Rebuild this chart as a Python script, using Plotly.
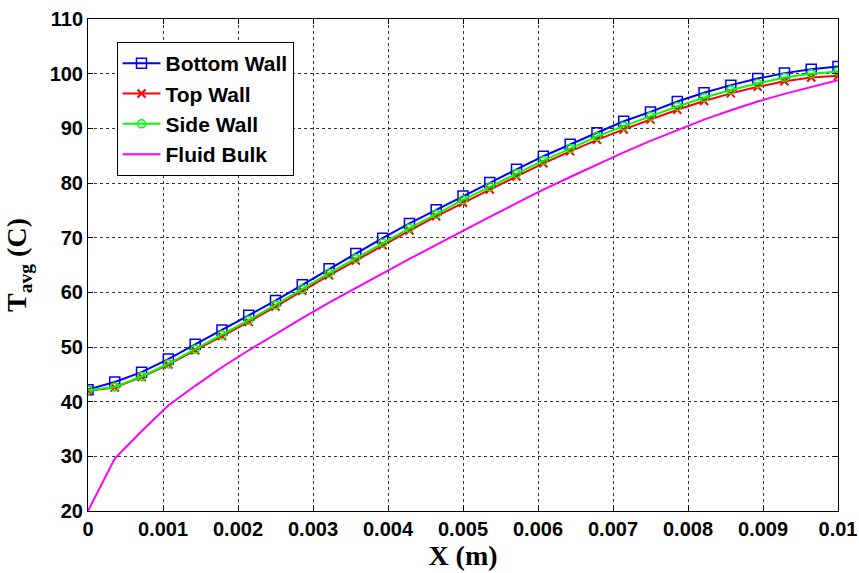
import plotly.graph_objects as go

# Axial positions (m): 29 stations along the channel
x_pos = [0.0, 0.000357, 0.000714, 0.001071, 0.001429, 0.001786, 0.002143, 0.0025,
         0.002857, 0.003214, 0.003571, 0.003929, 0.004286, 0.004643, 0.005, 0.005357,
         0.005714, 0.006071, 0.006429, 0.006786, 0.007143, 0.0075, 0.007857, 0.008214,
         0.008571, 0.008929, 0.009286, 0.009643, 0.01]

# Average temperatures (C)
bottom_wall = [42.2, 43.6, 45.4, 47.8, 50.5, 53.1, 55.8, 58.5, 61.4, 64.3, 67.1, 69.9,
               72.6, 75.1, 77.6, 80.1, 82.5, 84.9, 87.1, 89.2, 91.3, 93.0, 94.9, 96.5,
               97.9, 99.1, 100.1, 100.8, 101.3]
top_wall = [42.0, 42.6, 44.5, 46.8, 49.4, 52.0, 54.6, 57.4, 60.3, 63.1, 65.8, 68.6,
            71.3, 73.9, 76.4, 78.8, 81.2, 83.6, 85.8, 87.9, 89.8, 91.6, 93.4, 95.0,
            96.4, 97.6, 98.6, 99.3, 99.6]
side_wall = [42.1, 42.7, 44.6, 46.9, 49.6, 52.2, 54.9, 57.7, 60.6, 63.5, 66.2, 69.0,
             71.7, 74.3, 76.9, 79.3, 81.7, 84.1, 86.3, 88.5, 90.4, 92.2, 94.0, 95.6,
             97.0, 98.2, 99.3, 100.0, 100.4]
fluid_bulk = [20.0, 29.6, 34.6, 39.3, 42.9, 46.3, 49.4, 52.4, 55.3, 58.1, 60.8, 63.5,
              66.1, 68.7, 71.3, 73.8, 76.3, 78.8, 81.1, 83.4, 85.6, 87.7, 89.7, 91.6,
              93.3, 94.9, 96.3, 97.6, 98.8]

x_ticks = [0, 0.001, 0.002, 0.003, 0.004, 0.005, 0.006, 0.007, 0.008, 0.009, 0.01]
x_tick_text = ["0", "0.001", "0.002", "0.003", "0.004", "0.005", "0.006", "0.007",
               "0.008", "0.009", "0.01"]
y_ticks = [20, 30, 40, 50, 60, 70, 80, 90, 100, 110]

sans = "Arial, Liberation Sans, sans-serif"
serif = "Times New Roman, Liberation Serif, serif"

fig = go.Figure()
fig.add_trace(go.Scatter(
    x=x_pos, y=bottom_wall, name="Bottom Wall", mode="lines+markers",
    line=dict(color="#0000FF", width=2),
    marker=dict(symbol="square-open", size=10, color="#0000FF", line=dict(width=1.5)),
))
fig.add_trace(go.Scatter(
    x=x_pos, y=top_wall, name="Top Wall", mode="lines+markers",
    line=dict(color="#FF0000", width=2),
    marker=dict(symbol="x-thin-open", size=8, color="#FF0000", line=dict(width=2, color="#FF0000")),
))
fig.add_trace(go.Scatter(
    x=x_pos, y=side_wall, name="Side Wall", mode="lines+markers",
    line=dict(color="#00FF00", width=2),
    marker=dict(symbol="circle-open", size=8, color="#00FF00", line=dict(width=1.5)),
))
fig.add_trace(go.Scatter(
    x=x_pos, y=fluid_bulk, name="Fluid Bulk", mode="lines",
    line=dict(color="#FF00FF", width=2),
))

axis_common = dict(
    showline=True, linecolor="black", linewidth=1, mirror="ticks",
    ticks="inside", ticklen=5, tickcolor="black",
    showgrid=True, gridcolor="#333333", gridwidth=1, griddash="dot",
    zeroline=False, automargin=False,
    tickfont=dict(family=sans, size=20, color="black", weight="bold"),
)

fig.update_xaxes(
    range=[0, 0.01], tickvals=x_ticks, ticktext=x_tick_text,
    title=dict(text="X (m)", font=dict(family=serif, size=28, color="black", weight="bold"),
               standoff=6),
    **axis_common,
)
fig.update_yaxes(
    range=[20, 110], tickvals=y_ticks,
    title=dict(text="T<sub>avg</sub> (C)",
               font=dict(family=serif, size=28, color="black", weight="bold"),
               standoff=14),
    **axis_common,
)

fig.update_layout(
    width=859, height=573,
    margin=dict(l=88, r=21, t=19, b=62),
    paper_bgcolor="white", plot_bgcolor="white",
    showlegend=True,
    legend=dict(
        x=0.038, y=0.953, xanchor="left", yanchor="top",
        bgcolor="white", bordercolor="black", borderwidth=1,
        font=dict(family=sans, size=21, color="black", weight="bold"),
        itemwidth=38,
    ),
)

fig.write_html("out.html")
